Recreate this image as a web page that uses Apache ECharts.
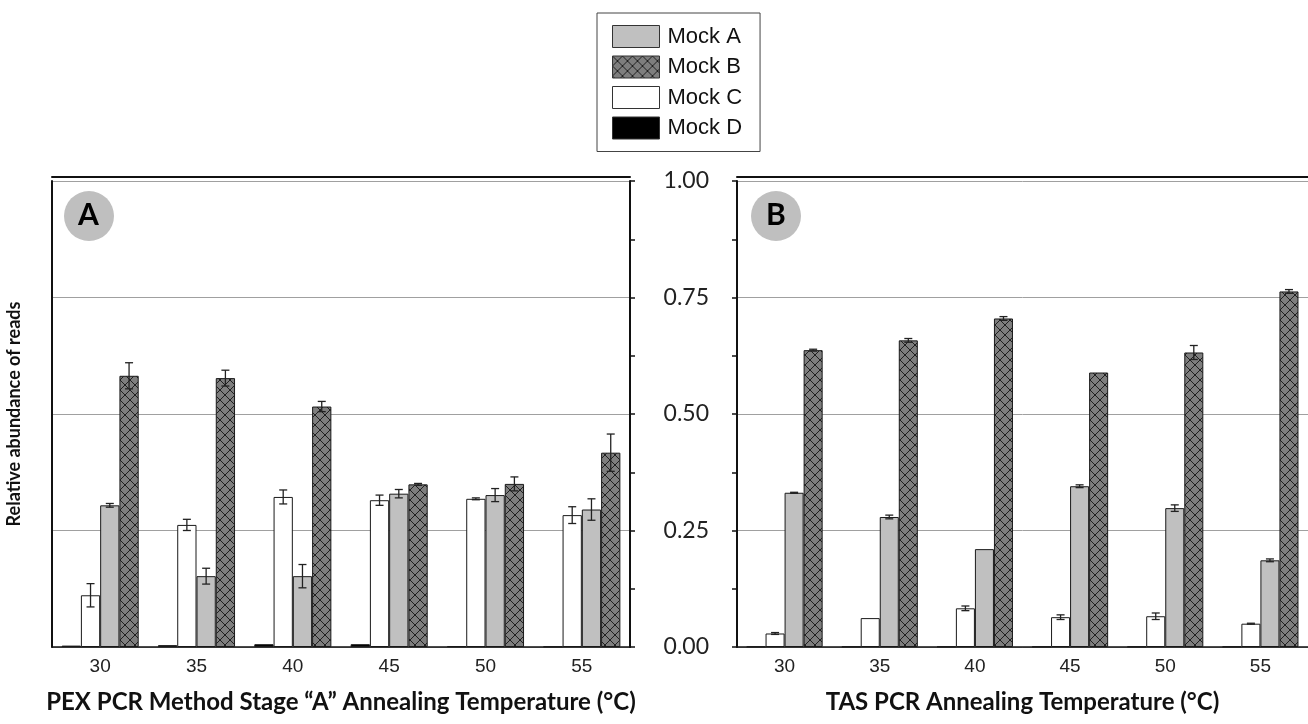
<!DOCTYPE html>
<html>
<head>
<meta charset="utf-8">
<script src="https://cdn.jsdelivr.net/npm/echarts@6/dist/echarts.min.js"></script>
<style>
html,body{margin:0;padding:0;background:#fff;}
#chart{width:1308px;height:724px;}
</style>
</head>
<body>
<div id="chart"></div>
<script>
// ---------- DATA ----------
const categories = ['30', '35', '40', '45', '50', '55'];
const seriesNames = ['Mock D', 'Mock C', 'Mock A', 'Mock B']; // order of bars inside each group
const legendOrder = ['Mock A', 'Mock B', 'Mock C', 'Mock D'];

// Panel A: PEX PCR Method Stage "A"
const pexMockD = [0.003, 0.004, 0.006, 0.006, 0.002, 0.001];
const pexMockC = [0.111, 0.262, 0.322, 0.315, 0.318, 0.283];
const pexMockA = [0.304, 0.152, 0.152, 0.329, 0.326, 0.295];
const pexMockB = [0.582, 0.577, 0.516, 0.349, 0.350, 0.417];
const pexErrD = [0, 0, 0, 0, 0, 0];
const pexErrC = [0.025, 0.012, 0.015, 0.011, 0.002, 0.018];
const pexErrA = [0.004, 0.017, 0.025, 0.009, 0.014, 0.023];
const pexErrB = [0.028, 0.017, 0.011, 0.002, 0.015, 0.040];

// Panel B: TAS PCR
const tasMockD = [0.001, 0.001, 0.001, 0.001, 0.001, 0.001];
const tasMockC = [0.029, 0.062, 0.083, 0.064, 0.066, 0.050];
const tasMockA = [0.331, 0.279, 0.210, 0.345, 0.298, 0.186];
const tasMockB = [0.637, 0.658, 0.705, 0.589, 0.632, 0.763];
const tasErrD = [0, 0, 0, 0, 0, 0];
const tasErrC = [0.002, 0, 0.005, 0.005, 0.007, 0.001];
const tasErrA = [0.001, 0.004, 0, 0.003, 0.007, 0.003];
const tasErrB = [0.002, 0.004, 0.004, 0, 0.015, 0.004];

// ---------- STYLE ----------
function hatchPattern() {
  const c = document.createElement('canvas');
  c.width = 10; c.height = 10;
  const g = c.getContext('2d');
  g.fillStyle = '#7e7e7e';
  g.fillRect(0, 0, 10, 10);
  g.strokeStyle = '#151515';
  g.lineWidth = 0.9;
  g.beginPath();
  g.moveTo(-1, -1); g.lineTo(11, 11);
  g.moveTo(11, -1); g.lineTo(-1, 11);
  g.stroke();
  return { image: c, repeat: 'repeat' };
}
const colors = {
  'Mock D': '#000000',
  'Mock C': '#ffffff',
  'Mock A': '#c0c0c0',
  'Mock B': hatchPattern()
};

const panels = [
  { vals: [pexMockD, pexMockC, pexMockA, pexMockB], errs: [pexErrD, pexErrC, pexErrA, pexErrB] },
  { vals: [tasMockD, tasMockC, tasMockA, tasMockB], errs: [tasErrD, tasErrC, tasErrA, tasErrB] }
];

const chart = echarts.init(document.getElementById('chart'), null, { renderer: 'canvas' });

const titleFont = 'Lato';
const grids = [
  { left: 52, top: 181, width: 578, height: 466 },
  { left: 737, top: 181, width: 576, height: 466 }
];

const xAxes = [];
const yAxes = [];
const series = [];

const BAR_FRAC = 0.2;

panels.forEach((p, gi) => {
  const base = xAxes.length;
  xAxes.push({
    type: 'category', gridIndex: gi, data: categories, position: 'bottom',
    axisLine: { lineStyle: { color: '#111', width: 1.5 } },
    axisTick: { alignWithLabel: true, length: 7, lineStyle: { color: '#111', width: 1.5 } },
    axisLabel: { fontFamily: 'Liberation Sans', fontSize: 19, color: '#222', margin: 10 },
    name: gi === 0 ? 'PEX PCR Method Stage \u201CA\u201D Annealing Temperature (\u00B0C)' : 'TAS PCR Annealing Temperature (\u00B0C)',
    nameLocation: 'middle', nameGap: 43,
    nameTextStyle: { fontFamily: titleFont, fontWeight: 'bold', fontSize: 24, color: '#111' }
  });
  xAxes.push({
    type: 'category', gridIndex: gi, data: categories, position: 'bottom',
    axisLine: { show: false },
    axisTick: { length: 3, lineStyle: { color: '#111', width: 1.5 } },
    axisLabel: { show: false }
  });
  xAxes.push({
    type: 'category', gridIndex: gi, data: categories, position: 'top', offset: 4,
    axisLine: { lineStyle: { color: '#111', width: 2 } },
    axisTick: { show: false }, axisLabel: { show: false }
  });

  const yBase = yAxes.length;
  if (gi === 0) {
    yAxes.push({
      type: 'value', gridIndex: 0, min: 0, max: 1, interval: 0.25, position: 'left',
      axisLine: { show: true, lineStyle: { color: '#111', width: 2 } },
      axisTick: { show: false }, axisLabel: { show: false },
      splitLine: { lineStyle: { color: '#a0a0a0', width: 1 } },
      name: 'Relative abundance of reads', nameLocation: 'middle', nameGap: 29,
      nameTextStyle: { fontFamily: titleFont, fontWeight: 'bold', fontSize: 18, color: '#111' }
    });
    yAxes.push({
      type: 'value', gridIndex: 0, min: 0, max: 1, interval: 0.125, position: 'right',
      axisLine: { show: true, lineStyle: { color: '#111', width: 2 } },
      axisTick: { show: true, inside: false, length: 5, lineStyle: { color: '#111', width: 1.5 } },
      axisLabel: { show: false }, splitLine: { show: false }
    });
  } else {
    yAxes.push({
      type: 'value', gridIndex: 1, min: 0, max: 1, interval: 0.25, position: 'left',
      axisLine: { show: true, lineStyle: { color: '#111', width: 2 } },
      axisTick: { show: true, length: 5, lineStyle: { color: '#111', width: 1.5 } },
      minorTick: { show: true, splitNumber: 2, length: 5, lineStyle: { color: '#111', width: 1.5 } },
      axisLabel: { fontFamily: titleFont, fontSize: 23, color: '#222', margin: 28,
        formatter: v => v.toFixed(2) },
      splitLine: { lineStyle: { color: '#a0a0a0', width: 1 } }
    });
  }

  seriesNames.forEach((name, si) => {
    series.push({
      type: 'bar', name: name, xAxisIndex: base, yAxisIndex: yBase,
      data: p.vals[si],
      barWidth: (BAR_FRAC * 100) + '%', barGap: '0%',
      itemStyle: { color: colors[name], borderColor: '#1a1a1a', borderWidth: 1 },
      emphasis: { disabled: true },
      animation: false
    });
  });

  const errData = [];
  seriesNames.forEach((name, si) => {
    p.vals[si].forEach((v, ci) => {
      if (p.errs[si][ci] > 0) errData.push([ci, si, v, p.errs[si][ci]]);
    });
  });
  series.push({
    type: 'custom', name: 'err' + gi, xAxisIndex: base, yAxisIndex: yBase,
    data: errData, z: 10, silent: true, animation: false,
    encode: { x: 0, y: 2 },
    renderItem: function (params, api) {
      const ci = api.value(0), si = api.value(1), v = api.value(2), e = api.value(3);
      const band = api.size([1, 0])[0];
      const bw = band * BAR_FRAC;
      const c = api.coord([ci, v]);
      const x = c[0] + (si - 1.5) * bw;
      const yHi = api.coord([ci, v + e])[1];
      const yLo = api.coord([ci, v - e])[1];
      const cap = 4;
      const st = { stroke: '#222', lineWidth: 1.3 };
      return {
        type: 'group',
        children: [
          { type: 'line', shape: { x1: x, y1: yHi, x2: x, y2: yLo }, style: st },
          { type: 'line', shape: { x1: x - cap, y1: yHi, x2: x + cap, y2: yHi }, style: st },
          { type: 'line', shape: { x1: x - cap, y1: yLo, x2: x + cap, y2: yLo }, style: st }
        ]
      };
    }
  });
});

const option = {
  backgroundColor: '#ffffff',
  animation: false,
  grid: grids,
  xAxis: xAxes,
  yAxis: yAxes,
  legend: {
    data: legendOrder,
    orient: 'vertical',
    left: 597, top: 13,
    icon: 'rect',
    itemWidth: 47, itemHeight: 22, itemGap: 7.5,
    padding: [12, 18, 12, 15],
    borderColor: '#444', borderWidth: 1,
    itemStyle: { borderColor: '#333', borderWidth: 1 },
    textStyle: { fontFamily: 'Liberation Sans', fontSize: 22, color: '#111', padding: [0, 0, 0, 3] },
    selectedMode: false
  },
  graphic: [
    { type: 'circle', left: 64, top: 191, shape: { r: 25 }, style: { fill: '#bfbfbf' }, z: 5 },
    { type: 'text', left: 78, top: 200, style: { text: 'A', font: 'bold 30px Lato', fill: '#000' }, z: 6 },
    { type: 'circle', left: 751, top: 191, shape: { r: 25 }, style: { fill: '#bfbfbf' }, z: 5 },
    { type: 'text', left: 766, top: 200, style: { text: 'B', font: 'bold 30px Lato', fill: '#000' }, z: 6 }
  ],
  series: series
};
chart.setOption(option);
</script>
</body>
</html>
